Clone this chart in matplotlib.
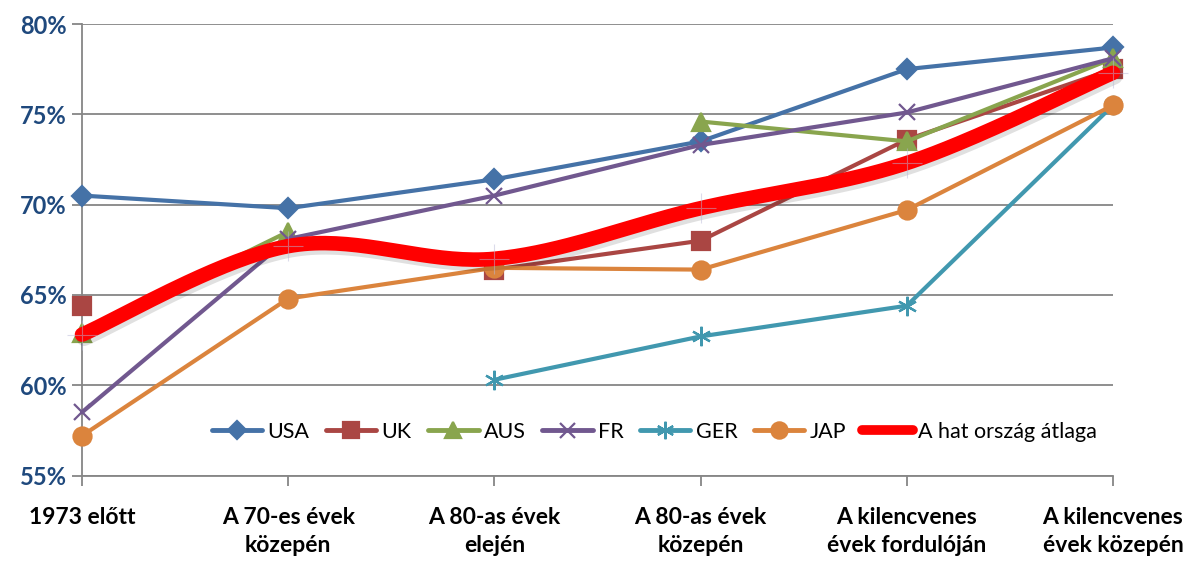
import numpy as np
import matplotlib
matplotlib.use("Agg")
import matplotlib.pyplot as plt
import matplotlib.patheffects as pe
from matplotlib.lines import Line2D
from matplotlib.ticker import FuncFormatter

periods = [
    "1973 előtt",
    "A 70-es évek\nközepén",
    "A 80-as évek\nelején",
    "A 80-as évek\nközepén",
    "A kilencvenes\névek fordulóján",
    "A kilencvenes\névek közepén",
]

nan = np.nan
usa = [70.5, 69.8, 71.4, 73.5, 77.5, 78.7]
uk = [64.4, nan, 66.4, 68.0, 73.6, 77.5]
aus = [62.9, 68.5, nan, 74.6, 73.5, 78.1]
fr = [58.5, 68.1, 70.5, 73.3, 75.1, 78.1]
ger = [nan, nan, 60.3, 62.7, 64.4, 75.5]
jap = [57.2, 64.8, 66.5, 66.4, 69.7, 75.5]
avg = [62.8, 67.7, 67.0, 69.8, 72.3, 77.3]

series = [
    ("USA", usa, "#4572A7", "D", 10),
    ("UK", uk, "#AA4643", "s", 13),
    ("AUS", aus, "#89A54E", "^", 13),
    ("FR", fr, "#71588F", "x", 12),
    ("GER", ger, "#4198AF", (6, 2, 0), 14),
    ("JAP", jap, "#DB843D", "o", 13),
]
avg_label = "A hat ország átlaga"


def smooth(xs, ys, n=40):
    # Catmull-Rom style bezier through the points
    pts = np.column_stack([xs, ys]).astype(float)
    out = []
    for i in range(len(pts) - 1):
        p0 = pts[max(i - 1, 0)]
        p1 = pts[i]
        p2 = pts[i + 1]
        p3 = pts[min(i + 2, len(pts) - 1)]
        c1 = p1 + (p2 - p0) / 6
        c2 = p2 - (p3 - p1) / 6
        t = np.linspace(0, 1, n)[:, None]
        seg = ((1 - t) ** 3) * p1 + 3 * ((1 - t) ** 2) * t * c1 + 3 * (1 - t) * t**2 * c2 + t**3 * p2
        out.append(seg if i == 0 else seg[1:])
    out = np.vstack(out)
    return out[:, 0], out[:, 1]


plt.rcParams["font.family"] = ["Lato", "DejaVu Sans"]

fig = plt.figure(figsize=(11.9, 5.62), dpi=100)
ax = fig.add_axes([82 / 1190, 1 - 475.5 / 562, (1113 - 82) / 1190, (475.5 - 24) / 562])

x = np.arange(len(periods))
handles = []
for name, vals, color, marker, ms in series:
    ax.plot(x, vals, color=color, lw=3, marker=marker, ms=ms, mew=1.6,
            mec=color, mfc=color, zorder=3, solid_capstyle="round", clip_on=False)
    handles.append(Line2D([], [], color=color, lw=3.5, marker=marker, ms=ms * 0.9,
                          mew=1.6, mec=color, mfc=color, solid_capstyle="round", label=name))

sx, sy = smooth(x, avg)
ax.plot(sx, sy, color="#FF0000", lw=10.5, solid_capstyle="round", zorder=4, clip_on=False,
        path_effects=[pe.SimpleLineShadow(offset=(1.5, -3), alpha=0.12, shadow_color="black"),
                      pe.Normal()])
ax.plot(x, avg, ls="none", marker="+", ms=22, mew=0.8, color="#B8B8D8", alpha=0.5,
        zorder=5, clip_on=False)
handles.append(Line2D([], [], color="#FF0000", lw=7, solid_capstyle="round", label=avg_label))

ax.set_xlim(0, 5)
ax.set_ylim(55, 80)
ax.set_yticks([55, 60, 65, 70, 75, 80])
ax.yaxis.set_major_formatter(FuncFormatter(lambda v, p: f"{v:.0f}%"))
ax.set_xticks(x)
ax.set_xticklabels(periods)

ax.grid(axis="y", color="#868686", lw=1.3, zorder=0)
ax.set_axisbelow(True)
for s in ["top", "right"]:
    ax.spines[s].set_visible(False)
for s in ["left", "bottom"]:
    ax.spines[s].set_color("#868686")
    ax.spines[s].set_linewidth(1.3)

ax.tick_params(axis="y", length=7, width=1.3, color="#868686", pad=4,
               labelsize=17, labelcolor="#1F497D")
ax.tick_params(axis="x", length=7, width=1.3, color="#868686", pad=16,
               labelsize=16.5, labelcolor="black")
for lab in ax.get_yticklabels():
    lab.set_fontweight("bold")
for lab in ax.get_xticklabels():
    lab.set_fontweight("bold")
    lab.set_linespacing(1.4)

ax.legend(handles=handles, loc="center left", bbox_to_anchor=(201 / 1190, 1 - 432 / 562),
          bbox_transform=fig.transFigure, ncol=7, frameon=False, fontsize=15.5,
          handlelength=2.35, handletextpad=0.25, columnspacing=0.75, borderpad=0)

fig.savefig("out.png", dpi=100)
